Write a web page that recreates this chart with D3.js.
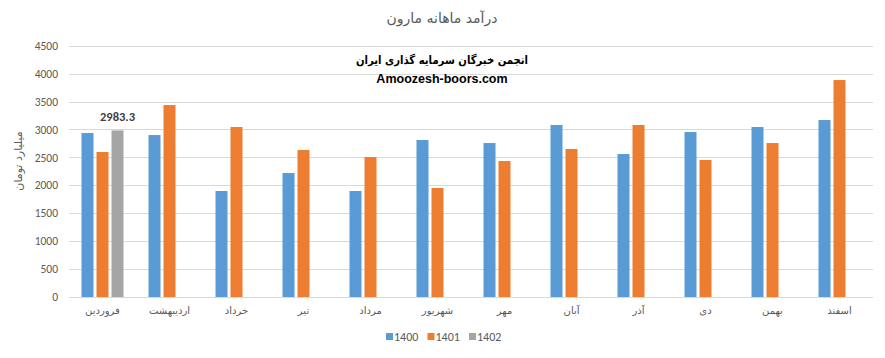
<!DOCTYPE html>
<html><head><meta charset="utf-8">
<script src="https://cdn.jsdelivr.net/npm/d3@7"></script>
<style>body{margin:0;background:#fff}svg{display:block}</style>
</head><body>
<svg id="c" width="885" height="358"></svg>
<script>
const months = ["فروردین","اردیبهشت","خرداد","تیر","مرداد","شهریور","مهر","آبان","آذر","دی","بهمن","اسفند"];
const seriesNames = ["1400","1401","1402"];
const s1400 = [2936,2900,1898,2220,1898,2811,2757,3080,2560,2954,3044,3169];
const s1401 = [2596,3437,3044,2632,2507,1952,2435,2650,3080,2453,2757,3885];
const s1402 = [2983.3,null,null,null,null,null,null,null,null,null,null,null];
const yTicks = [0,500,1000,1500,2000,2500,3000,3500,4000,4500];
const labelIndex = 0;
const colors = ["#5b9bd5","#ed7d31","#a5a5a5"];
const values = [s1400,s1401,s1402];

const svg = d3.select("#c");
const pL = 69, pR = 873, pT = 45.7, pB = 297;
const x0 = d3.scaleBand().domain(months).range([pL,pR]).padding(0);
const x1 = d3.scaleBand().domain(seriesNames).range([-21,21]).paddingInner(0.2).paddingOuter(0);
const y = d3.scaleLinear().domain([0,4500]).range([pB,pT]);

const fontLatin = "Calibri, Carlito, 'Liberation Sans', Arial, sans-serif";
const fontFa = "Tahoma, 'DejaVu Sans', sans-serif";

svg.append("g").selectAll("line").data(yTicks).join("line")
  .attr("x1",pL).attr("x2",pR)
  .attr("y1",d=>Math.round(y(d))+0.5).attr("y2",d=>Math.round(y(d))+0.5)
  .attr("stroke","#d9d9d9").attr("stroke-width",1);

const ya = svg.append("g").attr("transform",`translate(58,0)`)
  .call(d3.axisLeft(y).tickValues(yTicks).tickSize(0).tickPadding(0).tickFormat(d3.format("d")));
ya.select(".domain").remove();
ya.selectAll("text").attr("fill","#595959").style("font-family",fontLatin).style("font-size","11.5px");

seriesNames.forEach((s,si)=>{
  svg.append("g").selectAll("rect")
    .data(values[si].map((v,i)=>({m:months[i],v})).filter(d=>d.v!=null))
    .join("rect")
    .attr("x",d=>x0(d.m)+x0.bandwidth()/2+x1(s))
    .attr("width",x1.bandwidth())
    .attr("y",d=>y(d.v))
    .attr("height",d=>y(0)-y(d.v))
    .attr("fill",colors[si]);
});

svg.append("text")
  .attr("x",x0(months[labelIndex])+x0.bandwidth()/2+x1("1402")+x1.bandwidth()/2)
  .attr("y",y(s1402[labelIndex])-9)
  .attr("text-anchor","middle")
  .attr("fill","#404040").style("font-family",fontLatin).style("font-size","12.5px").style("font-weight","bold")
  .text(d3.format(".1f")(s1402[labelIndex]));

const xa = svg.append("g").attr("transform",`translate(0,${pB})`)
  .call(d3.axisBottom(x0).tickSize(0).tickPadding(10));
xa.select(".domain").remove();
xa.selectAll("text").attr("fill","#595959").style("font-family",fontFa).style("font-size","10px");

svg.append("text").attr("x",442).attr("y",23).attr("text-anchor","middle")
  .attr("fill","#595959").style("font-family",fontFa).style("font-size","14px")
  .text("درآمد ماهانه مارون");

svg.append("text").attr("transform","translate(22,161) rotate(-90)").attr("text-anchor","middle")
  .attr("fill","#595959").style("font-family",fontFa).style("font-size","11px")
  .text("میلیارد تومان");

svg.append("text").attr("x",442).attr("y",64).attr("text-anchor","middle")
  .attr("fill","#000").style("font-family",fontFa).style("font-size","11.5px").style("font-weight","bold")
  .attr("textLength",172).attr("lengthAdjust","spacingAndGlyphs")
  .text("انجمن خبرگان سرمایه گذاری ایران");
svg.append("text").attr("x",442).attr("y",83).attr("text-anchor","middle")
  .attr("fill","#000").style("font-family","'Liberation Sans', Arial, sans-serif").style("font-size","12.5px").style("font-weight","bold")
  .text("Amoozesh-boors.com");

const leg = svg.append("g").attr("transform","translate(386,333)");
seriesNames.forEach((s,i)=>{
  const g = leg.append("g").attr("transform",`translate(${i*41.5},0)`);
  g.append("rect").attr("width",7).attr("height",7).attr("fill",colors[i]);
  g.append("text").attr("x",8).attr("y",7.5).attr("fill","#595959")
    .style("font-family",fontLatin).style("font-size","12px").text(s);
});
</script>
</body></html>
